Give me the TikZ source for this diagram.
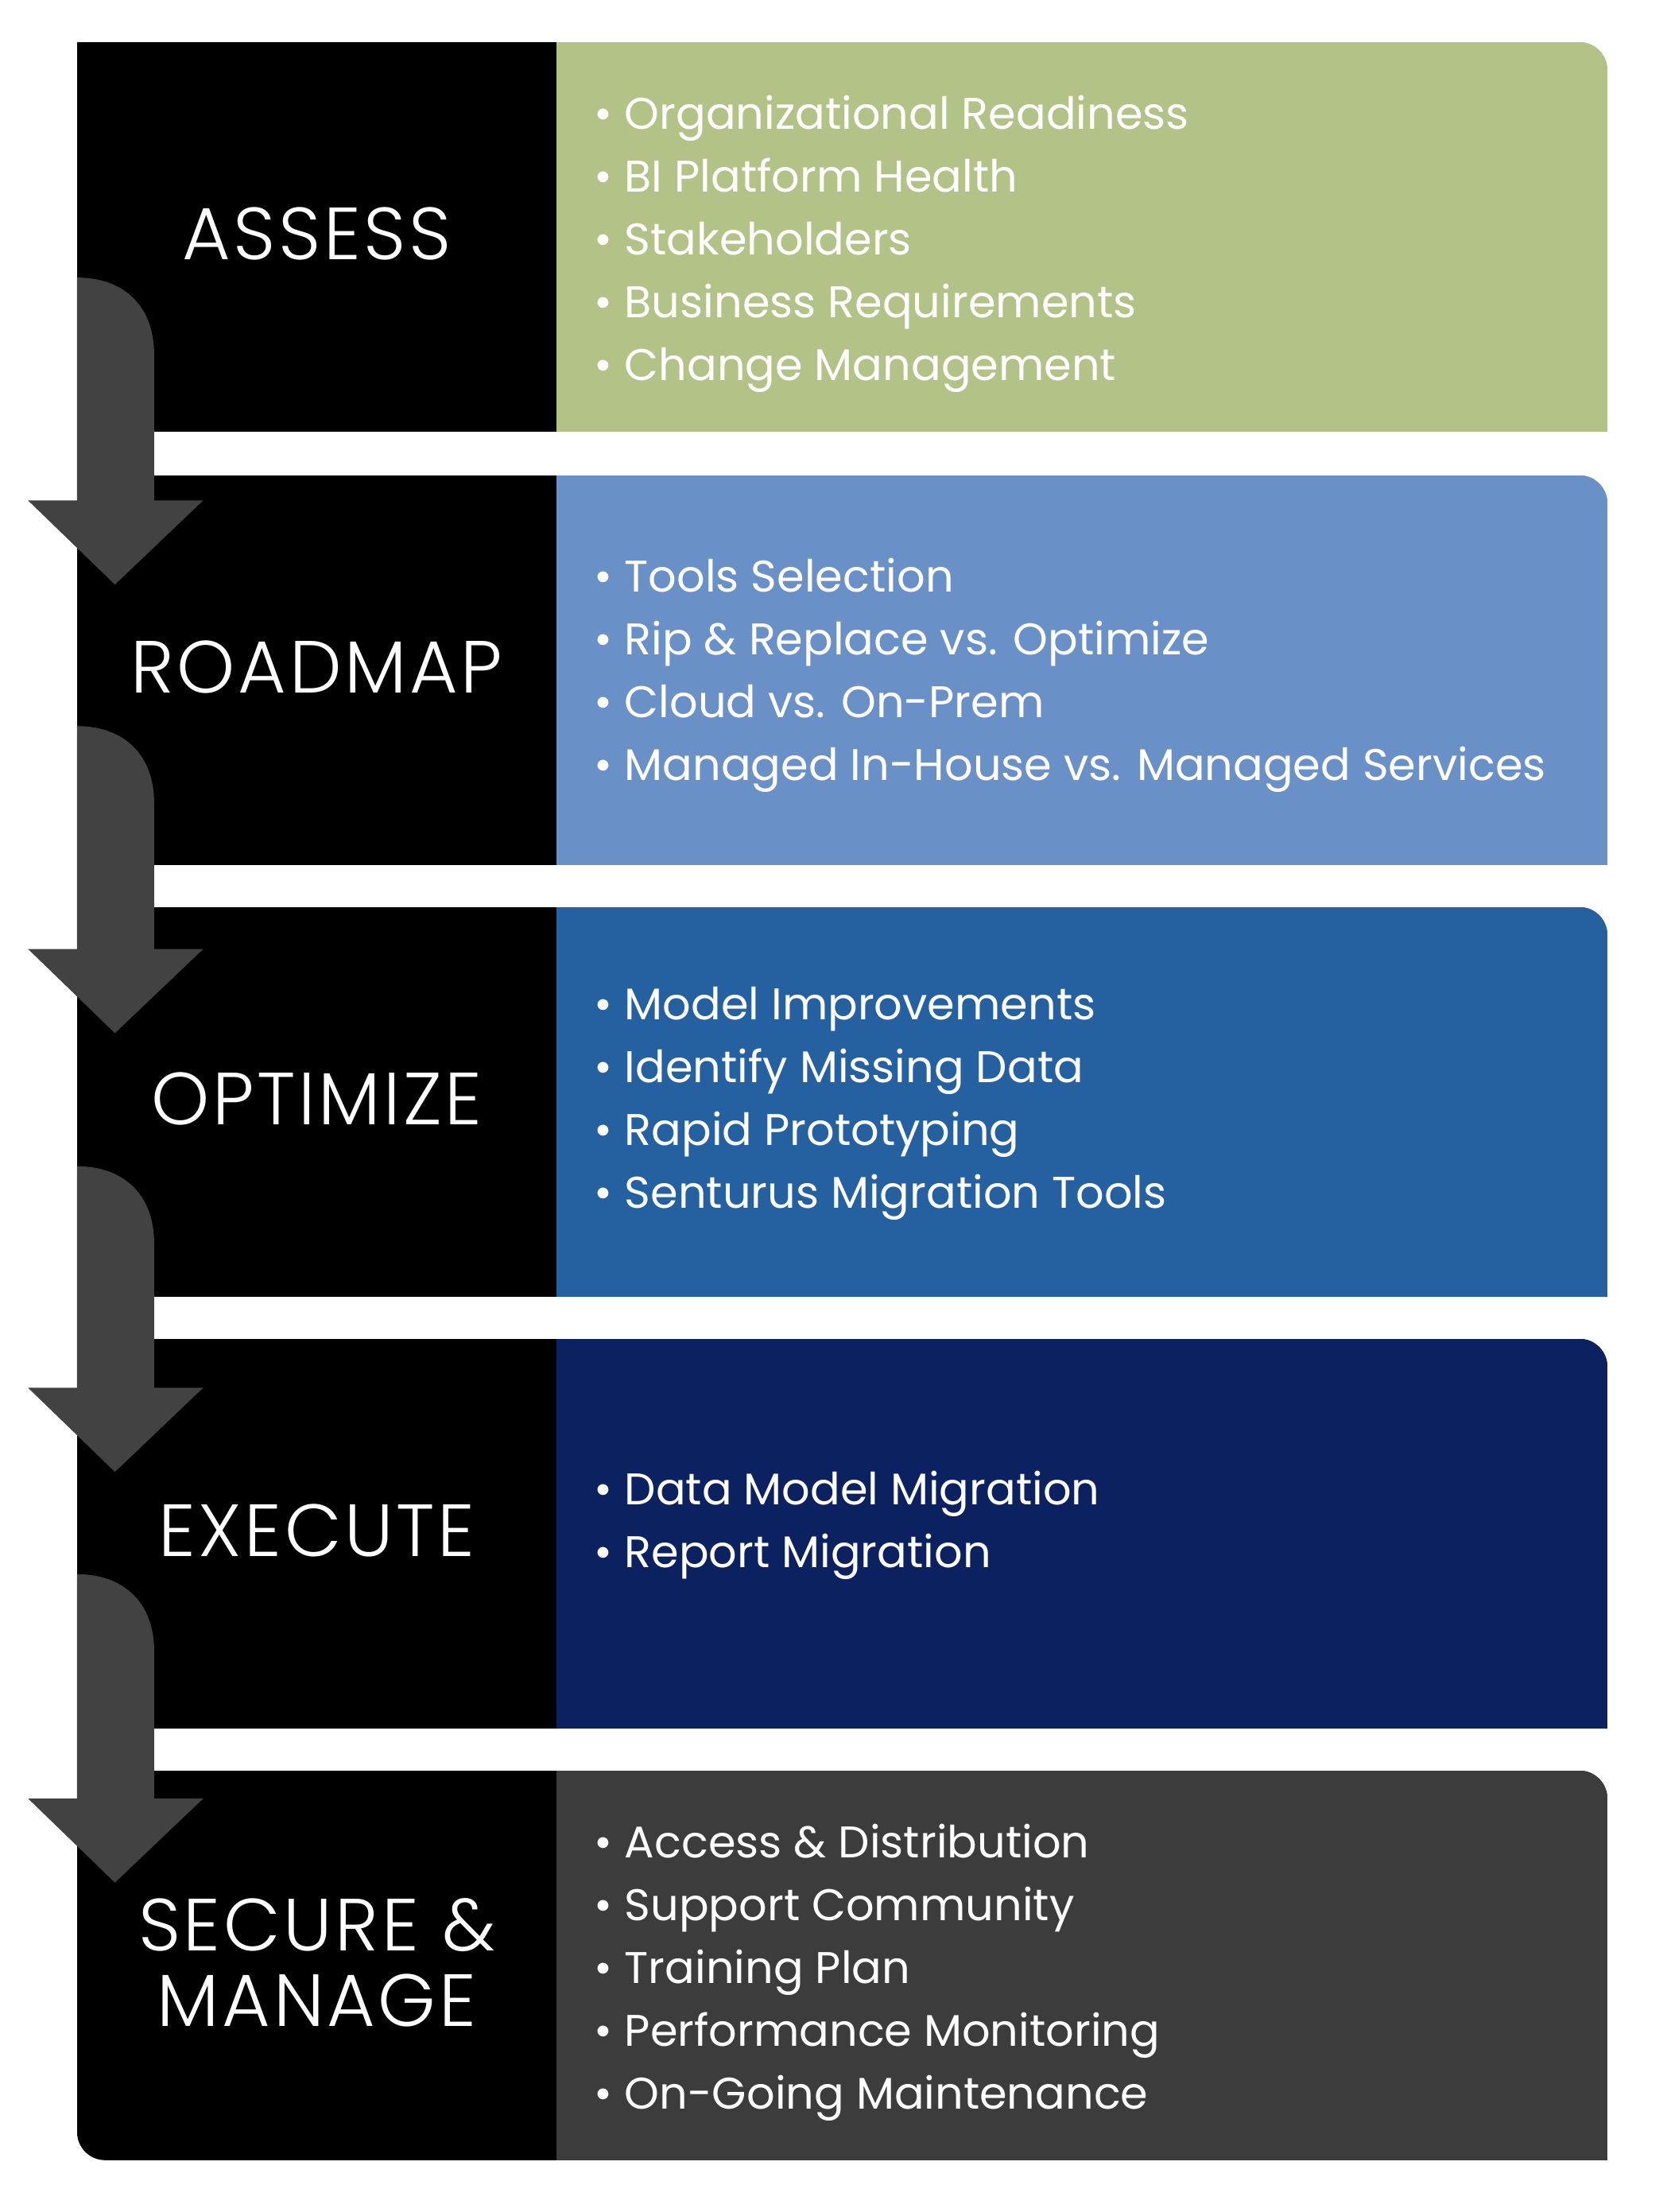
\documentclass[tikz,border=0pt]{standalone}
\usepackage{fontspec}
\usepackage{xcolor}
\setmainfont{Poppins}
\newfontfamily\stagefont[LetterSpace=4]{Poppins Light}
\usetikzlibrary{calc}

\definecolor{assessgreen}{HTML}{B3C287}
\definecolor{roadblue}{HTML}{6A90C8}
\definecolor{optblue}{HTML}{2560A0}
\definecolor{execnavy}{HTML}{0B2160}
\definecolor{securegray}{HTML}{3C3C3C}
\definecolor{arrowgray}{HTML}{424242}

\begin{document}
\begin{tikzpicture}[x=0.02cm, y=-0.02cm,
  stage/.style={text=white, font=\stagefont\fontsize{30}{30}\selectfont, align=center},
  items/.style={text=white, anchor=north west, align=left,
    font=\fontsize{18}{25.5}\selectfont}]

% === Bounding box ===
\useasboundingbox (0,0) rectangle (1189,1578);

% === Rows: top / colour ===
\foreach \top/\col in {30/assessgreen, 339/roadblue, 647/optblue,
  955/execnavy, 1263/securegray} {
  \pgfmathsetmacro{\bot}{\top+278}
  % coloured panel, top right corner rounded
  \begin{scope}
    \clip[rounded corners=0.4cm] (357,\top) rectangle (1147,\bot+40);
    \fill[\col] (397,\top) rectangle (1147,\bot);
  \end{scope}
  % black panel
  \fill[black] (55,\top) rectangle (397,\bot);
}

% Bottom left corner of the last black panel
\fill[white] (55,1541) rectangle (80,1516);
\begin{scope}
  \clip[rounded corners=0.4cm] (55,1223) rectangle (437,1541);
  \fill[black] (55,1263) rectangle (397,1541);
\end{scope}

% === Stage names ===
\node[stage] (assess) at (226,167) {ASSESS};
\node[stage] (roadmap) at (226,476) {ROADMAP};
\node[stage] (optimize) at (226,784) {OPTIMIZE};
\node[stage] (execute) at (226,1092) {EXECUTE};
\node[stage, font=\stagefont\fontsize{30}{30.5}\selectfont] (secure) at (226,1400) {SECURE \&\\MANAGE};

% === Bullet lists ===
\node[items] (assessitems) at (418,62) {%
  • Organizational Readiness\\• BI Platform Health\\• Stakeholders\\%
  • Business Requirements\\• Change Management};
\node[items] (roadmapitems) at (418,392) {%
  • Tools Selection\\• Rip \& Replace vs. Optimize\\• Cloud vs. On-Prem\\%
  • Managed In-House vs. Managed Services};
\node[items] (optimizeitems) at (418,698) {%
  • Model Improvements\\• Identify Missing Data\\• Rapid Prototyping\\%
  • Senturus Migration Tools};
\node[items] (executeitems) at (418,1043) {%
  • Data Model Migration\\• Report Migration};
\node[items] (secureitems) at (418,1295) {%
  • Access \& Distribution\\• Support Community\\• Training Plan\\%
  • Performance Monitoring\\• On-Going Maintenance};

% === Arrows between stages ===
\foreach \s/\h in {198/357, 518/677, 832/990, 1123/1283} {
  \fill[arrowgray] (55,\s) -- (55,\h) -- (20,\h) -- (82,\h+60) -- (145,\h)
    -- (110,\h) -- (110,\s+55) .. controls (110,\s+20) and (88,\s) .. cycle;
}

\end{tikzpicture}
\end{document}
